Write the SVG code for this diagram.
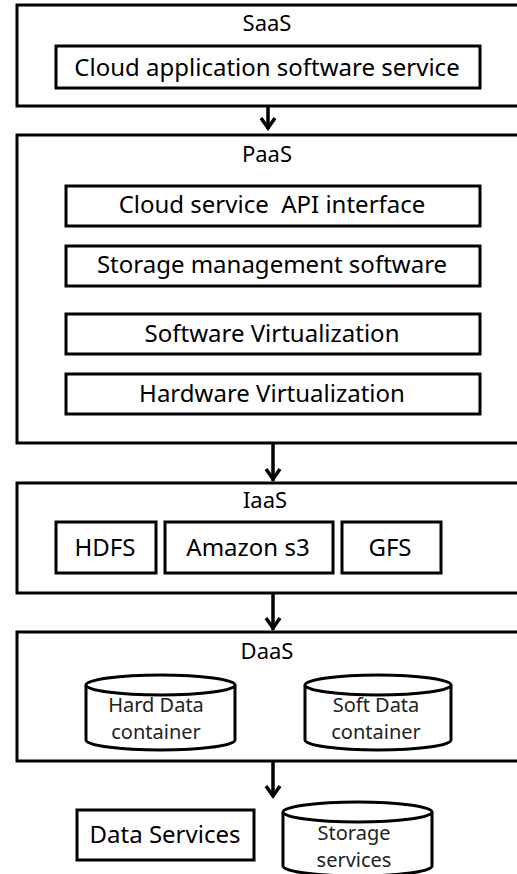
<svg xmlns="http://www.w3.org/2000/svg" width="517" height="874" viewBox="0 0 517 874">
<defs>
<style>
.box{fill:#fff;stroke:#000;stroke-width:3}
.t{font-family:"Noto Sans","Open Sans",sans-serif;fill:#000;text-anchor:middle;white-space:pre}
.ttl{font-size:22px}
.lab{font-size:24px}
.cyl{font-size:20px;fill:#222}
.conn{stroke:#000;stroke-width:3.5;fill:none}
.head{fill:none;stroke:#000;stroke-width:3.5;stroke-linejoin:miter}
</style>
</defs>
<rect width="517" height="874" fill="#fff"/>
<g id="saas">
<rect class="box" x="17" y="5" width="510" height="101"/>
<text class="t ttl" x="267" y="31">SaaS</text>
<rect class="box" x="56" y="46" width="424" height="42"/>
<text class="t lab" x="267" y="76">Cloud application software service</text>
</g>
<g id="paas">
<rect class="box" x="17" y="135" width="510" height="308"/>
<text class="t ttl" x="267" y="162">PaaS</text>
<rect class="box" x="66" y="186" width="414" height="40"/>
<text class="t lab" x="272" y="213" xml:space="preserve">Cloud service  API interface</text>
<rect class="box" x="66" y="246" width="414" height="40"/>
<text class="t lab" x="272" y="273">Storage management software</text>
<rect class="box" x="66" y="314" width="414" height="40"/>
<text class="t lab" x="272" y="342">Software Virtualization</text>
<rect class="box" x="66" y="374" width="414" height="40"/>
<text class="t lab" x="272" y="402">Hardware Virtualization</text>
</g>
<g id="iaas">
<rect class="box" x="17" y="483" width="510" height="110"/>
<text class="t ttl" x="265" y="508">IaaS</text>
<rect class="box" x="56" y="522" width="100" height="51"/>
<text class="t lab" x="105" y="556">HDFS</text>
<rect class="box" x="165" y="522" width="168" height="51"/>
<text class="t lab" x="248" y="556">Amazon s3</text>
<rect class="box" x="342" y="522" width="99" height="51"/>
<text class="t lab" x="390" y="556">GFS</text>
</g>
<g id="daas">
<rect class="box" x="17" y="632" width="510" height="129"/>
<text class="t ttl" x="267" y="659">DaaS</text>
<g id="hard">
<path class="box" d="M86 685 L86 740 A74.5 10 0 0 0 235 740 L235 685"/>
<ellipse class="box" cx="160.5" cy="685" rx="74.5" ry="10"/>
<text class="t cyl" x="156" y="712">Hard Data</text>
<text class="t cyl" x="156" y="739">container</text>
</g>
<g id="soft">
<path class="box" d="M305 685 L305 740 A73 10 0 0 0 451 740 L451 685"/>
<ellipse class="box" cx="378" cy="685" rx="73" ry="10"/>
<text class="t cyl" x="376" y="712">Soft Data</text>
<text class="t cyl" x="376" y="739">container</text>
</g>
</g>
<g id="dataservices">
<rect class="box" x="77" y="810" width="177" height="50"/>
<text class="t lab" x="165" y="843">Data Services</text>
</g>
<g id="storage">
<path class="box" d="M283 812 L283 866 A74.5 10 0 0 0 432 866 L432 812"/>
<ellipse class="box" cx="357.5" cy="812" rx="74.5" ry="10"/>
<text class="t cyl" x="354" y="840">Storage</text>
<text class="t cyl" x="354" y="867">services</text>
</g>
<g id="connectors">
<line class="conn" x1="268" y1="106" x2="268" y2="129"/>
<polyline class="head" points="261,118 268,128 275,118"/>
<line class="conn" x1="273" y1="443" x2="273" y2="481"/>
<polyline class="head" points="266,469 273,479 280,469"/>
<line class="conn" x1="273" y1="593" x2="273" y2="630"/>
<polyline class="head" points="266,618 273,628 280,618"/>
<line class="conn" x1="273" y1="761" x2="273" y2="797"/>
<polyline class="head" points="266,786 273,796 280,786"/>
</g>
</svg>
